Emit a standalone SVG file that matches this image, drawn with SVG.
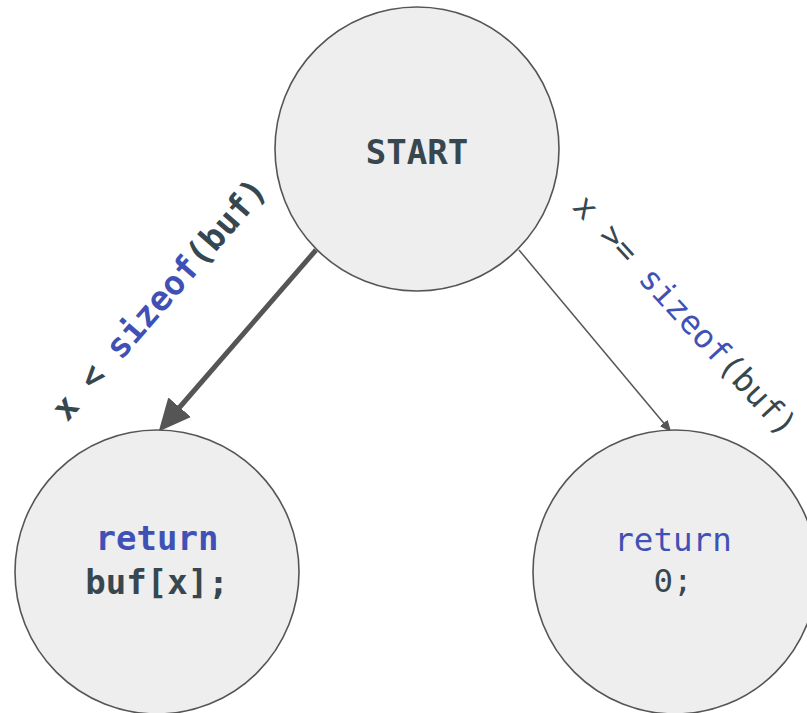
<svg xmlns="http://www.w3.org/2000/svg" width="807" height="713" viewBox="0 0 807 713">
<defs>
<style>
.node{fill:#eeeeee;stroke:#555555;stroke-width:1.6}
.t{font-family:"DejaVu Sans Mono","Liberation Mono",monospace;fill:#37474f;text-anchor:middle}
.kw{fill:#3f51b5}
.b{font-weight:bold}
.edge{stroke:#555555;fill:none}
</style>
<marker id="bigArrow" viewBox="0 -15 32 30" refX="1" refY="0" markerWidth="32" markerHeight="30" markerUnits="userSpaceOnUse" orient="auto">
<path d="M0,-15 L32,0 L0,15 z" fill="#555555"/>
</marker>
<marker id="smallArrow" viewBox="0 -5 12 10" refX="1" refY="0" markerWidth="12" markerHeight="10" markerUnits="userSpaceOnUse" orient="auto">
<path d="M0,-5 L12,0 L0,5 z" fill="#555555"/>
</marker>
</defs>
<rect width="807" height="713" fill="#ffffff"/>
<g id="connectors">
<line class="edge" x1="316" y1="250" x2="179" y2="408" stroke-width="5" marker-end="url(#bigArrow)"/>
<line class="edge" x1="519" y1="250" x2="664.3" y2="423.8" stroke-width="1.5" marker-end="url(#smallArrow)"/>
<text class="t b" font-size="34" transform="translate(168,307) rotate(-49)">x &lt; <tspan class="kw">sizeof</tspan>(buf)</text>
<text class="t" font-size="32.5" transform="translate(677,323) rotate(47.5)">x &gt;= <tspan class="kw">sizeof</tspan>(buf)</text>
</g>
<g id="start">
<circle class="node" cx="417" cy="149" r="142"/>
<text class="t b" x="417" y="164" font-size="34">START</text>
</g>
<g id="return-buf">
<circle class="node" cx="157" cy="572" r="142"/>
<text class="t b" x="157" y="550" font-size="34"><tspan class="kw">return</tspan></text>
<text class="t b" x="157" y="594" font-size="34">buf[x];</text>
</g>
<g id="return-zero">
<circle class="node" cx="675" cy="572" r="142"/>
<text class="t" x="673" y="551" font-size="32.5"><tspan class="kw">return</tspan></text>
<text class="t" x="673" y="592" font-size="32.5">0;</text>
</g>
</svg>
